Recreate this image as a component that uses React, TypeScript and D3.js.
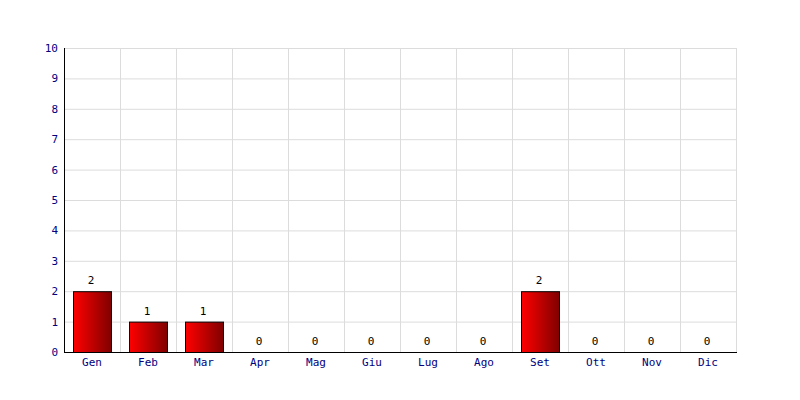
import React from "react";
import * as d3 from "d3";

const months = ["Gen", "Feb", "Mar", "Apr", "Mag", "Giu", "Lug", "Ago", "Set", "Ott", "Nov", "Dic"];
const values = [2, 1, 1, 0, 0, 0, 0, 0, 2, 0, 0, 0];
const yTicks = [0, 1, 2, 3, 4, 5, 6, 7, 8, 9, 10];

export default function App() {
  const W = 800, H = 400;
  const left = 64, right = 736, top = 48, bottom = 352;
  const x = d3.scaleBand<string>().domain(months).range([left, right]).paddingInner(0).paddingOuter(0);
  const y = d3.scaleLinear().domain([0, 10]).range([bottom, top]);
  const bw = 38;
  const font = "'DejaVu Sans Mono', monospace";
  return (
    <svg width={W} height={H} style={{ position: "absolute", left: 0, top: 0, background: "#fff" }}>
      <defs>
        <linearGradient id="barGrad" x1="0" x2="1" y1="0" y2="0">
          <stop offset="0%" stopColor="#ff0000" />
          <stop offset="100%" stopColor="#800000" />
        </linearGradient>
      </defs>
      <rect x={0} y={0} width={W} height={H} fill="#fff" />
      {yTicks.map((t) => (
        <line key={"h" + t} x1={left} x2={right} y1={y(t) + 0.5} y2={y(t) + 0.5} stroke="#dcdcdc" />
      ))}
      {months.map((m, i) => (
        <line key={"v" + m} x1={(x(m) as number) + x.bandwidth() + 0.5} x2={(x(m) as number) + x.bandwidth() + 0.5} y1={top} y2={bottom} stroke="#dcdcdc" />
      ))}
      {months.map((m, i) => {
        const cx = (x(m) as number) + x.bandwidth() / 2;
        const v = values[i];
        return (
          <g key={"b" + m}>
            {v > 0 && (
              <rect x={cx - bw / 2 + 0.5} y={y(v) + 0.5} width={bw} height={y(0) - y(v)} fill="url(#barGrad)" stroke="#000" />
            )}
            <text x={cx - 1} y={y(v) - 7} textAnchor="middle" fontFamily={font} fontSize={11} fill="#000">{v}</text>
            <text x={cx} y={bottom + 14} textAnchor="middle" fontFamily={font} fontSize={11} fill="#000080">{m}</text>
          </g>
        );
      })}
      {yTicks.map((t) => (
        <text key={"yl" + t} x={left - 6} y={y(t) + 4} textAnchor="end" fontFamily={font} fontSize={11} fill="#000080">{t}</text>
      ))}
      <line x1={left + 0.5} x2={left + 0.5} y1={top} y2={bottom + 1} stroke="#000" />
      <line x1={left} x2={right + 1} y1={bottom + 0.5} y2={bottom + 0.5} stroke="#000" />
    </svg>
  );
}
